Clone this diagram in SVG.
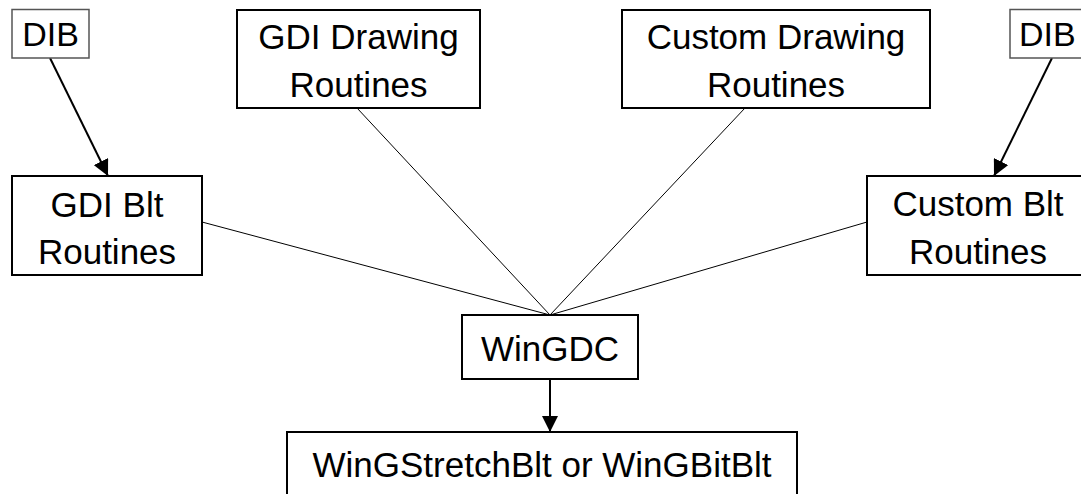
<svg xmlns="http://www.w3.org/2000/svg" width="1081" height="494" viewBox="0 0 1081 494">
<style>
.box{fill:#fff;stroke:#000;stroke-width:2}
.dib{fill:#fff;stroke:#555;stroke-width:1.5}
.t{font-family:"Liberation Sans",Arial,sans-serif;font-size:35px;fill:#000;text-anchor:middle}
.d{font-size:34px}
.thin{stroke:#000;stroke-width:1;fill:none}
.arr{stroke:#000;stroke-width:2;fill:none;marker-end:url(#ah)}
</style>
<defs>
<marker id="ah" viewBox="0 0 10 10" refX="10" refY="5" markerWidth="16" markerHeight="16" markerUnits="userSpaceOnUse" orient="auto">
<path d="M0,0 L10,5 L0,10 z" fill="#000"/>
</marker>
</defs>
<rect width="1081" height="494" fill="#fff"/>
<g id="connectors">
<line class="thin" x1="202" y1="222" x2="550" y2="315"/>
<line class="thin" x1="357" y1="108" x2="550" y2="315"/>
<line class="thin" x1="745" y1="108" x2="550" y2="315"/>
<line class="thin" x1="867" y1="222" x2="550" y2="315"/>
<line class="arr" x1="50" y1="58" x2="108" y2="176"/>
<line class="arr" x1="1052" y1="58" x2="994" y2="176"/>
<line class="arr" x1="550" y1="379" x2="550" y2="432"/>
</g>
<g id="dib-left">
<rect class="dib" x="12" y="9.5" width="77" height="48.5"/>
<text class="t d" x="50.5" y="46">DIB</text>
</g>
<g id="dib-right">
<rect class="dib" x="1010" y="9.5" width="90" height="48.5"/>
<text class="t d" x="1019" y="46" style="text-anchor:start">DIB</text>
</g>
<g id="gdi-drawing">
<rect class="box" x="237" y="10" width="243" height="98"/>
<text class="t" x="358.5" y="49">GDI Drawing</text>
<text class="t" x="358.5" y="97">Routines</text>
</g>
<g id="custom-drawing">
<rect class="box" x="622" y="10" width="308" height="98"/>
<text class="t" x="776" y="49">Custom Drawing</text>
<text class="t" x="776" y="97">Routines</text>
</g>
<g id="gdi-blt">
<rect class="box" x="12" y="176" width="190" height="99"/>
<text class="t" x="107" y="217">GDI Blt</text>
<text class="t" x="107" y="264">Routines</text>
</g>
<g id="custom-blt">
<rect class="box" x="867" y="176" width="230" height="99"/>
<text class="t" x="978" y="216">Custom Blt</text>
<text class="t" x="978" y="264">Routines</text>
</g>
<g id="wingdc">
<rect class="box" x="462" y="315" width="176" height="64"/>
<text class="t" x="550" y="361">WinGDC</text>
</g>
<g id="blit">
<rect class="box" x="287" y="432" width="510" height="80"/>
<text class="t" x="542" y="477">WinGStretchBlt or WinGBitBlt</text>
</g>
</svg>
